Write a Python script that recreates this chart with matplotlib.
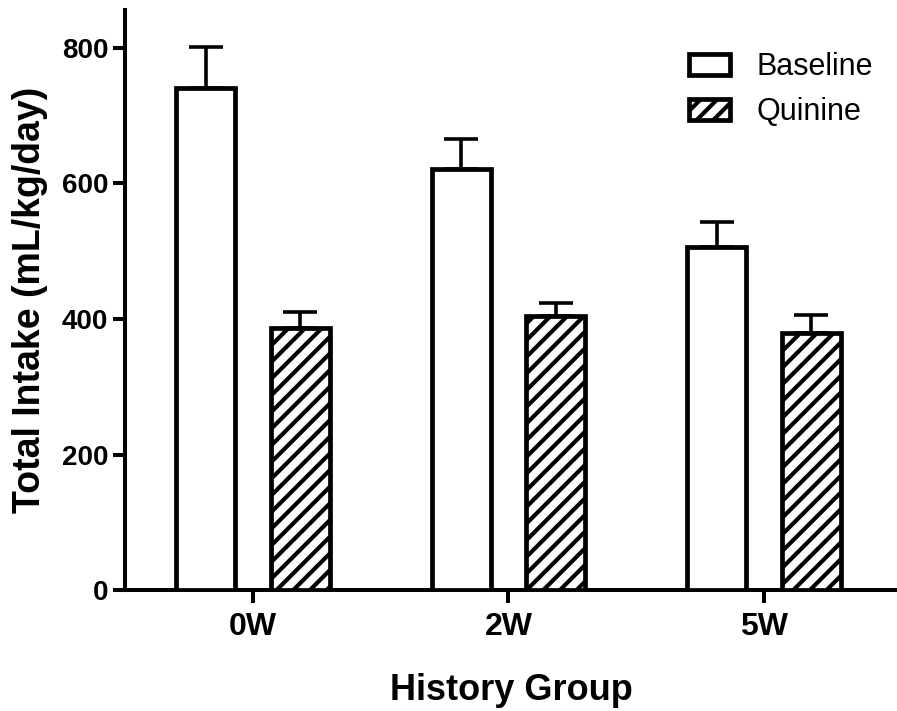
import matplotlib
matplotlib.use("Agg")
import matplotlib.pyplot as plt
import numpy as np

# values
groups = ["0W", "2W", "5W"]
baseline = [741, 621, 506]
baseline_err = [60, 45, 37]
quinine = [387, 404, 379]
quinine_err = [23, 20, 27]

plt.rcParams['font.family'] = ['Liberation Sans', 'DejaVu Sans']
plt.rcParams['hatch.linewidth'] = 3.0

fig = plt.figure(figsize=(8.97, 7.11), dpi=100)
ax = fig.add_axes([0.1394, 0.170, 0.8606, 0.816])

x = np.arange(len(groups))
w = 0.23
off = 0.185

#Bars
ax.bar(x - off, baseline, w, color='white', edgecolor='black', linewidth=3.4,
       label='Baseline', zorder=3)
ax.bar(x + off, quinine, w, color='white', edgecolor='black', linewidth=3.4,
       hatch='//', label='Quinine', zorder=3)

#Error bars, upper only
ax.errorbar(x - off, baseline, yerr=[np.zeros(3), baseline_err], fmt='none',
            ecolor='black', elinewidth=2.6, capsize=12, capthick=2.6, zorder=2)
ax.errorbar(x + off, quinine, yerr=[np.zeros(3), quinine_err], fmt='none',
            ecolor='black', elinewidth=2.6, capsize=12, capthick=2.6, zorder=2)

ax.set_xlim(-0.5, 2.52)
ax.set_ylim(0, 856)
ax.set_yticks([0, 200, 400, 600, 800])
ax.set_xticks(x)
ax.set_xticklabels(groups)

for s in ['top', 'right']:
    ax.spines[s].set_visible(False)
for s in ['left', 'bottom']:
    ax.spines[s].set_linewidth(2.9)

ax.tick_params(axis='both', direction='out', width=2.9, length=9)
ax.tick_params(axis='y', labelsize=20, pad=3)
ax.tick_params(axis='x', labelsize=23, pad=7)
for lbl in ax.get_xticklabels() + ax.get_yticklabels():
    lbl.set_fontweight('bold')

ax.set_ylabel('Total Intake (mL/kg/day)', fontsize=27, fontweight='bold', labelpad=10)
ax.set_xlabel('History Group', fontsize=26, fontweight='bold', labelpad=22)

leg = ax.legend(loc='upper left', bbox_to_anchor=(0.695, 0.975), frameon=False,
                fontsize=22, handlelength=1.35, handleheight=0.7,
                handletextpad=0.85, labelspacing=0.5)

fig.savefig('out.png', dpi=100)
